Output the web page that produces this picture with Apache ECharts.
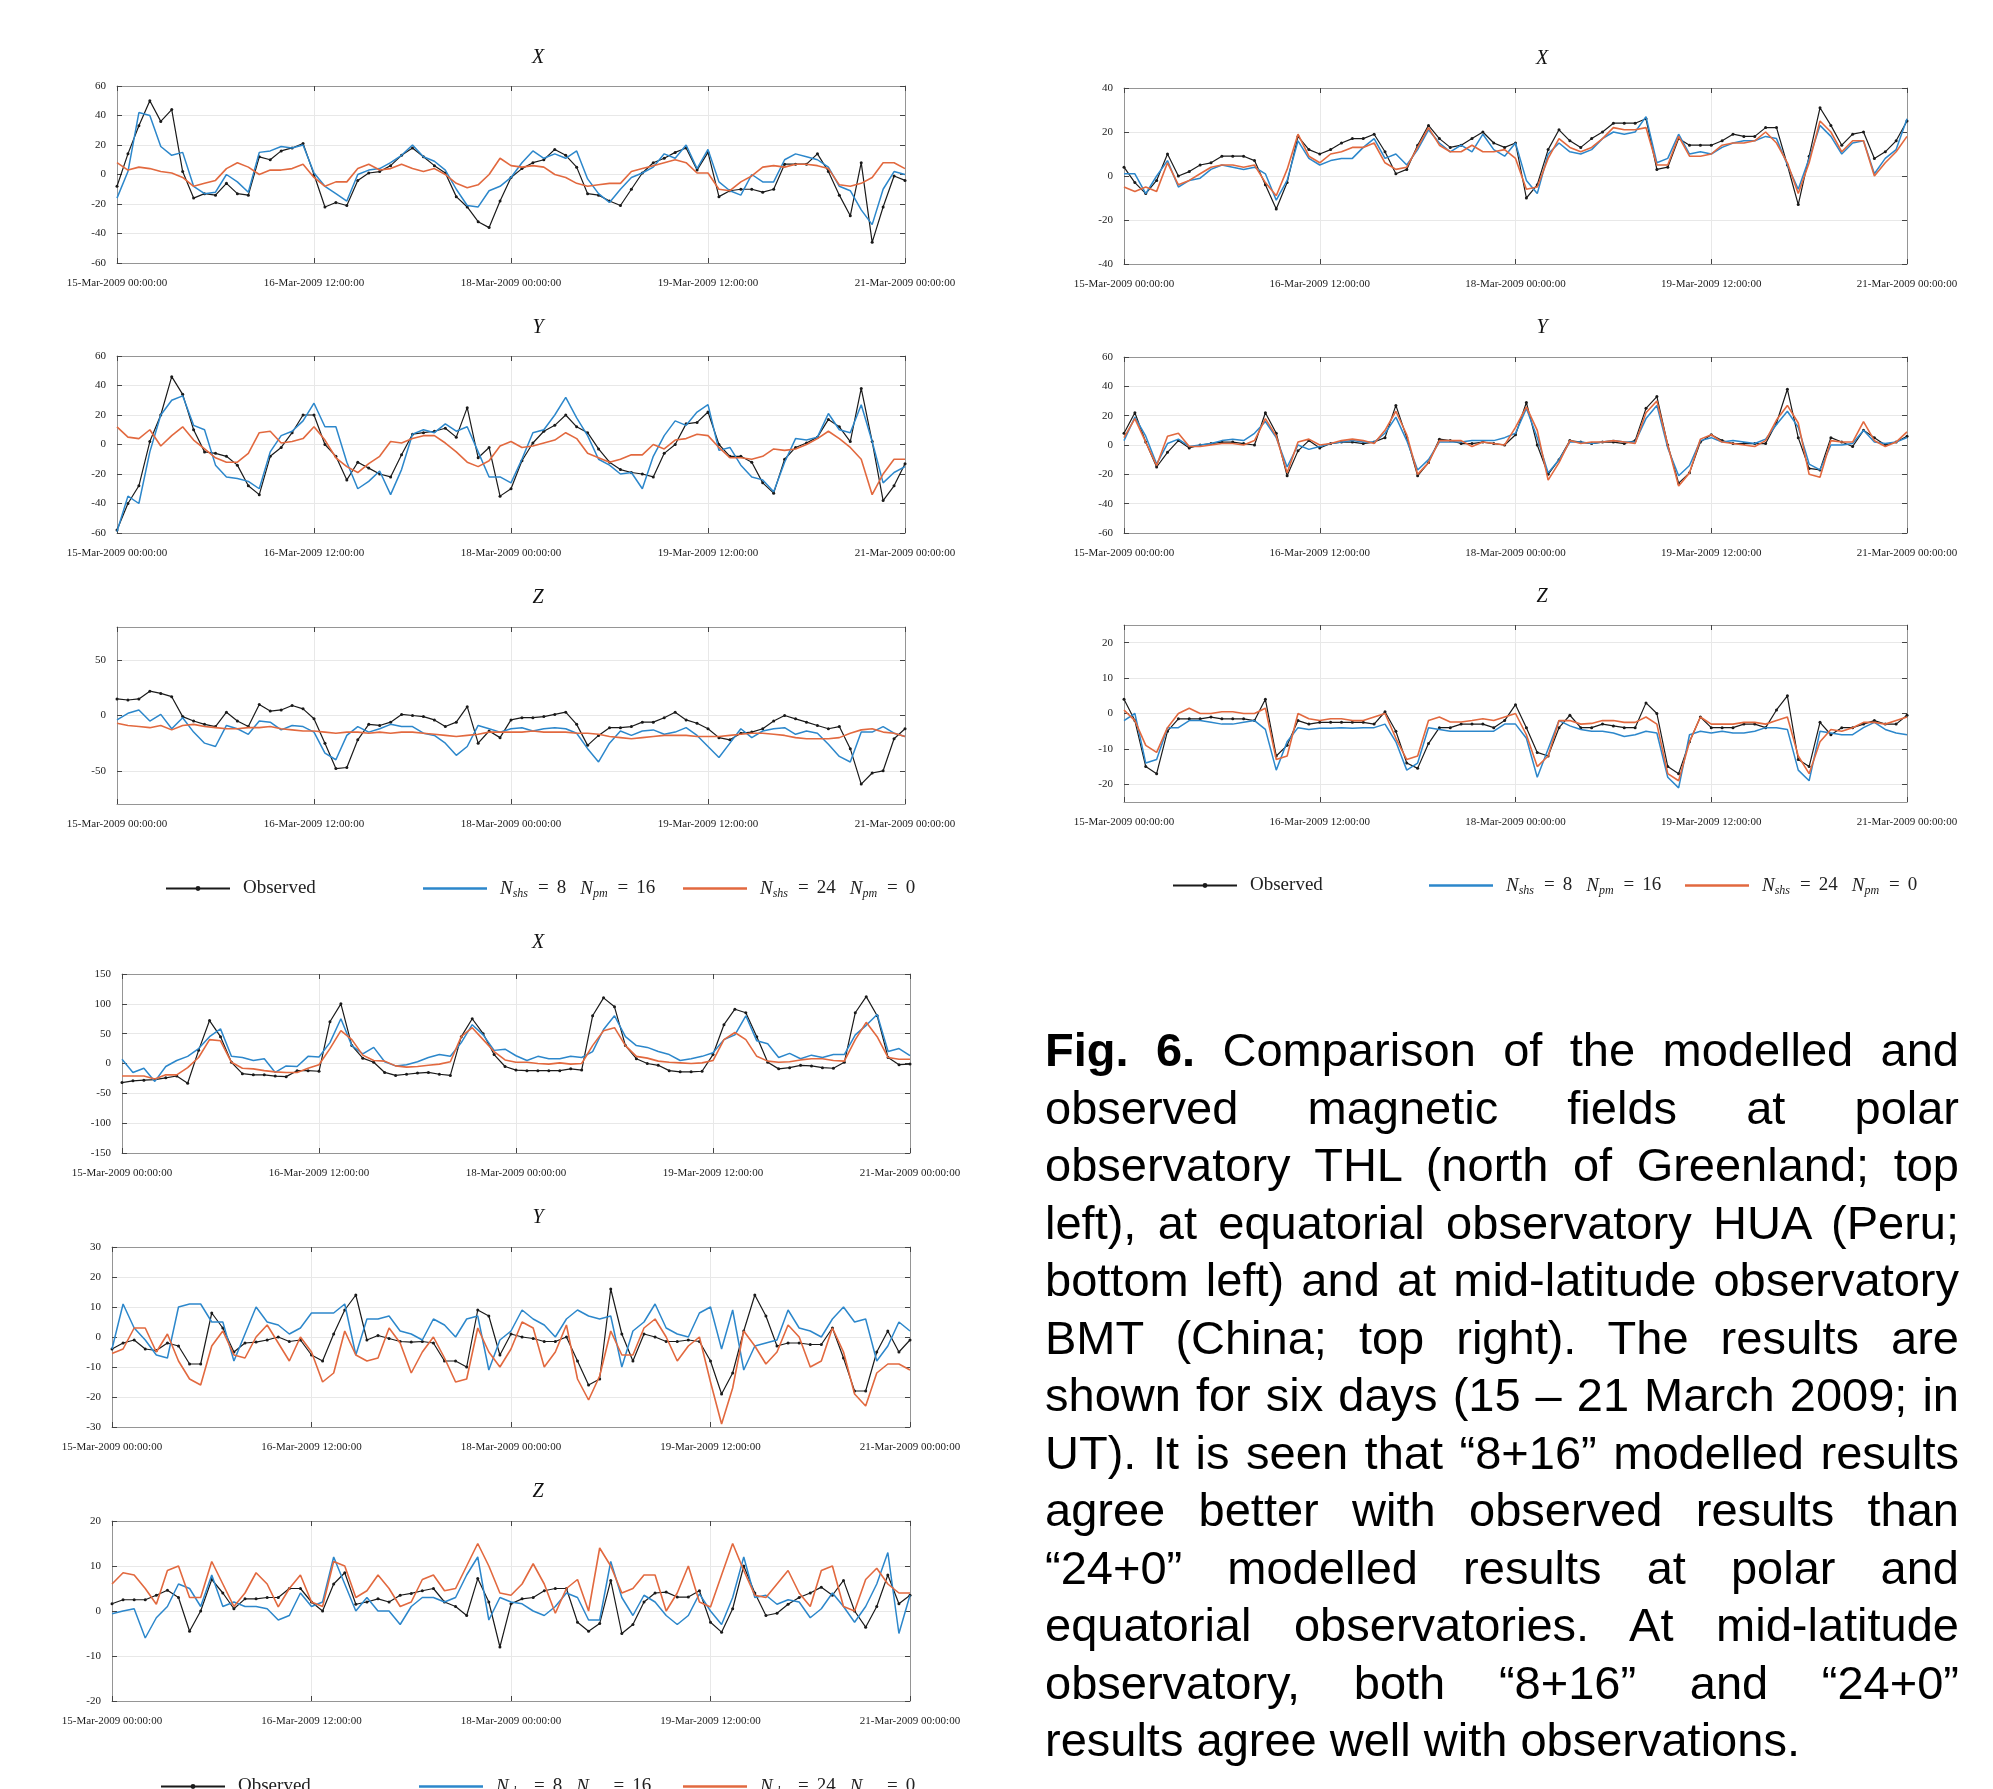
<!DOCTYPE html>
<html>
<head>
<meta charset="utf-8">
<script src="https://cdn.jsdelivr.net/npm/echarts@6/dist/echarts.min.js"></script>
<style>
html, body { margin: 0; padding: 0; background: #fff; }
#chart { position: absolute; left: 0; top: 0; width: 1993px; height: 1789px; }
#caption { position: absolute; left: 1045px; top: 1021px; width: 914px;
  font-family: 'Liberation Sans', Arial, sans-serif; font-size: 47px; line-height: 57.5px; color: #000; }
#caption div { text-align: justify; text-align-last: justify; }
#caption div.last { text-align-last: left; }
</style>
</head>
<body>
<div id="chart"></div>
<div id="caption">
<div><b>Fig. 6.</b> Comparison of the modelled and</div>
<div>observed magnetic fields at polar</div>
<div>observatory THL (north of Greenland; top</div>
<div>left), at equatorial observatory HUA (Peru;</div>
<div>bottom left) and at mid-latitude observatory</div>
<div>BMT (China; top right). The results are</div>
<div>shown for six days (15 – 21 March 2009; in</div>
<div>UT). It is seen that “8+16” modelled results</div>
<div>agree better with observed results than</div>
<div>“24+0” modelled results at polar and</div>
<div>equatorial observatories. At mid-latitude</div>
<div>observatory, both “8+16” and “24+0”</div>
<div class="last">results agree well with observations.</div>
</div>
<script>
// time grid: hours since 15-Mar-2009 00:00, every 2 h
var hours = [];
for (var h = 0; h <= 144; h += 2) hours.push(h);
var tickLabels = ['15-Mar-2009 00:00:00', '16-Mar-2009 12:00:00', '18-Mar-2009 00:00:00', '19-Mar-2009 12:00:00', '21-Mar-2009 00:00:00'];

// THL (polar, top left)
var thlXObs = [-8, 14, 33, 50, 36, 44, 2, -16, -13, -14, -6, -13,
  -14, 12, 10, 16, 18, 21, 0, -22, -19, -21, -4, 1,
  2, 6, 13, 18, 12, 6, 1, -15, -22, -32, -36, -18,
  -2, 4, 8, 10, 17, 13, 5, -13, -14, -18, -21, -10,
  1, 8, 11, 15, 18, 3, 15, -15, -11, -10, -10, -12,
  -10, 7, 7, 7, 14, 2, -14, -28, 8, -46, -22, -1, -4];
var thlXN8 = [-16, 2, 42, 40, 19, 13, 15, -8, -13, -12, 0, -5,
  -12, 15, 16, 19, 18, 20, 1, -8, -13, -18, 0, 3,
  4, 8, 13, 20, 12, 9, 3, -10, -21, -22, -11, -8,
  -2, 8, 16, 11, 14, 11, 16, -3, -13, -19, -10, -2,
  1, 5, 14, 11, 20, 4, 17, -5, -11, -14, 0, -5,
  -5, 10, 14, 12, 10, 5, -8, -11, -24, -34, -10, 2, 0];
var thlXN24 = [8, 3, 5, 4, 2, 1, -2, -8, -6, -4, 4, 8,
  5, 0, 3, 3, 4, 7, -2, -8, -5, -5, 4, 7,
  3, 4, 7, 4, 2, 4, 0, -6, -9, -7, 0, 11,
  6, 5, 6, 5, 0, -2, -6, -8, -7, -6, -6, 2,
  4, 6, 8, 10, 8, 1, 1, -10, -11, -5, -1, 5,
  6, 5, 7, 7, 6, 4, -7, -8, -6, -2, 8, 8, 4];
var thlYObs = [-58, -40, -28, 2, 20, 46, 34, 10, -5, -6, -8, -14,
  -28, -34, -8, -2, 8, 20, 20, 0, -8, -24, -12, -16,
  -20, -22, -7, 7, 8, 9, 11, 5, 25, -9, -2, -35,
  -30, -11, 1, 9, 13, 20, 12, 8, -3, -12, -17, -19,
  -20, -22, -6, 0, 14, 15, 22, 0, -8, -8, -12, -26,
  -33, -10, -2, 1, 5, 17, 12, 2, 38, 2, -38, -28, -13];
var thlYN8 = [-59, -35, -40, -5, 20, 30, 33, 13, 10, -14, -22, -23,
  -25, -30, -5, 6, 9, 16, 28, 12, 12, -12, -30, -25,
  -18, -34, -17, 7, 10, 8, 14, 9, 12, -5, -22, -22,
  -26, -10, 8, 10, 20, 32, 18, 6, -10, -14, -20, -19,
  -30, -8, 6, 16, 13, 22, 27, -4, -2, -14, -22, -24,
  -32, -12, 4, 3, 5, 21, 10, 8, 27, 2, -26, -19, -15];
var thlYN24 = [12, 5, 4, 10, -1, 6, 12, 3, -3, -9, -12, -12,
  -6, 8, 9, 1, 2, 4, 12, 3, -9, -15, -19, -13,
  -8, 2, 1, 4, 6, 6, 1, -5, -12, -15, -11, -1,
  2, -2, -1, 1, 3, 8, 4, -6, -9, -12, -10, -7,
  -7, 0, -3, 3, 4, 7, 6, -2, -9, -9, -10, -8,
  -3, -4, -3, 0, 4, 9, 4, -2, -10, -34, -20, -10, -10];
var thlZObs = [15, 14, 15, 22, 20, 17, -1, -5, -8, -10, 3, -5,
  -10, 10, 4, 5, 9, 6, -3, -25, -48, -47, -22, -8,
  -9, -6, 1, 0, -1, -4, -10, -6, 8, -25, -14, -20,
  -4, -2, -2, -1, 1, 3, -8, -27, -18, -11, -11, -10,
  -6, -6, -2, 3, -4, -7, -12, -20, -22, -16, -15, -12,
  -5, 0, -3, -6, -9, -12, -10, -30, -62, -52, -50, -21, -12];
var thlZN8 = [-4, 2, 5, -5, 1, -12, -2, -15, -25, -28, -9, -12,
  -17, -5, -6, -13, -9, -10, -15, -34, -40, -18, -10, -15,
  -12, -8, -10, -10, -16, -18, -25, -36, -28, -9, -12, -15,
  -12, -11, -14, -12, -11, -12, -16, -30, -42, -25, -14, -18,
  -14, -13, -17, -15, -11, -18, -28, -38, -25, -12, -20, -14,
  -12, -11, -17, -14, -16, -26, -37, -42, -15, -15, -10, -16, -19];
var thlZN24 = [-7, -9, -10, -11, -9, -13, -9, -8, -10, -11, -12, -12,
  -11, -11, -10, -12, -13, -14, -14, -15, -16, -15, -15, -16,
  -15, -16, -15, -15, -16, -17, -18, -19, -18, -17, -15, -15,
  -15, -15, -14, -15, -15, -15, -16, -16, -17, -19, -20, -21,
  -20, -19, -18, -18, -18, -19, -19, -19, -18, -17, -16, -16,
  -17, -18, -20, -21, -21, -21, -20, -16, -13, -12, -15, -16, -19];

// BMT (mid-latitude, top right)
var bmtXObs = [4, -3, -8, -2, 10, 0, 2, 5, 6, 9, 9, 9,
  7, -4, -15, -3, 18, 12, 10, 12, 15, 17, 17, 19,
  11, 1, 3, 14, 23, 17, 13, 14, 17, 20, 15, 13,
  15, -10, -4, 12, 21, 16, 13, 17, 20, 24, 24, 24,
  26, 3, 4, 17, 14, 14, 14, 16, 19, 18, 18, 22,
  22, 5, -13, 9, 31, 23, 14, 19, 20, 8, 11, 16, 25];
var bmtXN8 = [1, 1, -8, 0, 7, -5, -2, -1, 3, 5, 4, 3,
  4, 1, -11, -2, 16, 8, 5, 7, 8, 8, 13, 17,
  8, 10, 5, 12, 21, 15, 11, 14, 11, 19, 12, 9,
  15, -2, -8, 10, 15, 11, 10, 12, 17, 20, 19, 20,
  27, 6, 8, 19, 10, 11, 10, 13, 15, 16, 16, 18,
  17, 5, -6, 8, 23, 18, 10, 15, 16, 1, 8, 12, 26];
var bmtXN24 = [-5, -7, -5, -7, 6, -4, -2, 1, 4, 5, 5, 4,
  5, -3, -9, 3, 19, 9, 6, 10, 11, 13, 13, 15,
  6, 3, 4, 13, 22, 14, 11, 11, 14, 11, 11, 12,
  8, -6, -5, 8, 17, 13, 11, 13, 17, 22, 21, 21,
  22, 5, 5, 18, 9, 9, 10, 14, 15, 15, 16, 20,
  15, 6, -8, 6, 25, 20, 11, 16, 16, 0, 6, 11, 18];
var bmtYObs = [8, 22, 2, -15, -5, 3, -2, 0, 1, 2, 2, 1,
  0, 22, 8, -21, -4, 3, -2, 1, 2, 2, 1, 2,
  5, 27, 5, -21, -12, 4, 3, 1, 1, 2, 1, 0,
  7, 29, 0, -20, -10, 3, 2, 1, 2, 2, 1, 3,
  25, 33, 0, -26, -19, 2, 7, 3, 1, 1, 1, 1,
  15, 38, 5, -16, -17, 5, 2, -1, 10, 5, 0, 2, 6];
var bmtYN8 = [3, 19, 6, -13, 1, 4, -1, 0, 1, 3, 4, 3,
  8, 16, 5, -15, 0, -3, -1, 1, 2, 3, 2, 2,
  8, 19, 3, -17, -10, 2, 2, 2, 3, 3, 3, 5,
  8, 25, 5, -19, -10, 2, 2, 1, 2, 3, 2, 2,
  18, 27, -2, -21, -14, 3, 5, 2, 3, 2, 1, 4,
  14, 23, 12, -13, -17, 0, 0, 1, 10, 2, 1, 2, 5];
var bmtYN24 = [5, 18, 2, -14, 6, 8, -1, -1, 0, 1, 1, 0,
  3, 18, 6, -19, 2, 4, 0, 1, 3, 4, 3, 1,
  10, 23, 7, -20, -12, 3, 3, 3, -1, 2, 1, 0,
  12, 26, 10, -24, -12, 3, 1, 2, 2, 3, 2, 1,
  22, 30, 0, -28, -19, 4, 7, 2, 1, 0, -1, 3,
  17, 27, 15, -20, -22, 3, 2, 2, 16, 3, -1, 2, 9];
var bmtZObs = [4, -2, -15, -17, -5, -1.5, -1.5, -1.5, -1, -1.5, -1.5, -1.5,
  -2, 4, -12, -9, -2, -3, -2.5, -2.5, -2.5, -2.5, -2.5, -3,
  0.5, -5, -14, -15.5, -8.5, -4, -4, -3, -3, -3, -4, -2,
  2.5, -4, -11, -12, -4, -0.5, -4, -4, -3, -3.5, -4, -4,
  3, 0, -15, -17, -8, -1, -4, -4, -4, -3, -3, -4,
  1, 5, -13, -15, -2.5, -6, -4, -4, -3, -2, -3, -3, -0.5];
var bmtZN8 = [-2, 0, -14, -13, -4, -4, -2, -2, -2.5, -3, -3, -2.5,
  -2, -4.5, -16, -8, -4, -4.5, -4.2, -4.2, -4, -4.2, -4, -4,
  -3, -8, -16, -14, -4, -4.5, -5, -5, -5, -5, -5, -3,
  -3, -7, -18, -10, -2, -3.5, -4.5, -5, -5, -5.5, -6.5, -6,
  -5, -5.5, -18, -21, -6, -5, -5.5, -5, -5.5, -5.5, -5, -4,
  -4, -4.5, -16, -19, -5, -5.5, -6, -6, -4, -2.5, -4.5, -5.5, -6];
var bmtZN24 = [1, -2, -9, -11, -4, 0, 1.5, 0, 0, 0.5, 0.5, 0,
  0, 1.5, -13, -12, 0, -1.5, -2, -1.5, -1.5, -2, -2, -1,
  0, -7, -13, -12, -2, -1, -2.4, -2.4, -2, -1.5, -2, -1,
  0, -6, -15, -12, -2, -2, -3, -2.8, -2, -2, -2.5, -2.5,
  -1, -3, -17, -19, -8, -1, -3, -3, -3, -2.5, -2.5, -3,
  -2, -1, -12, -17, -8, -4.5, -5, -4, -2.5, -2.5, -3, -2, -1];

// HUA (equatorial, bottom left)
var huaXObs = [-32, -29, -28, -27, -24, -21, -33, 22, 72, 45, 2, -17,
  -19, -19, -21, -22, -12, -12, -13, 70, 100, 30, 9, 2,
  -15, -20, -18, -16, -15, -18, -20, 45, 75, 50, 15, -5,
  -11, -12, -12, -12, -12, -9, -11, 80, 110, 95, 30, 8,
  0, -3, -12, -14, -14, -13, 15, 65, 91, 85, 45, 2,
  -9, -7, -3, -4, -7, -8, 2, 85, 112, 80, 10, -2, -1];
var huaXN8 = [7, -15, -8, -30, -5, 5, 12, 25, 45, 58, 12, 10,
  5, 8, -15, -4, -5, 12, 11, 35, 75, 30, 16, 27,
  3, -4, -2, 3, 10, 15, 12, 35, 65, 48, 22, 24,
  13, 5, 12, 8, 8, 12, 10, 20, 57, 80, 45, 30,
  27, 20, 15, 5, 8, 12, 18, 40, 48, 80, 38, 33,
  10, 17, 8, 14, 10, 15, 15, 48, 64, 82, 20, 25, 13];
var huaXN24 = [-21, -21, -21, -26, -19, -19, -7, 10, 40, 38, 2, -8,
  -9, -12, -14, -15, -15, -8, -2, 25, 55, 40, 14, 5,
  4, -4, -6, -5, -3, -1, 3, 45, 60, 40, 20, 6,
  2, 2, 0, -1, 1, -1, 0, 30, 55, 60, 30, 12,
  9, 4, 2, 1, 0, 1, 5, 40, 52, 40, 12, 4,
  2, 3, 6, 8, 8, 5, 4, 40, 69, 45, 10, 7, 7];
var huaYObs = [-4, -2, -1, -4, -4.5, -2, -3, -9, -9, 8, 3, -5,
  -2, -1.7, -1, 0, -1.5, -1, -6, -8, 1, 9, 14, -1,
  0.5, -0.5, -1.5, -1.7, -1.5, -2, -8, -8, -10, 9, 7, -6,
  1, 0, -0.5, -1.5, -1.5, 0, -8, -16, -14, 16, 1, -8,
  1, 0, -1.5, -1.5, -1, -1.5, -8, -19, -12, 2, 14, 7,
  -3, -2, -2, -2.5, -2.5, 3, -7, -18, -18, -5, 2, -5, -1];
var huaYN8 = [-4, 11, 3, -1, -6, -7, 10, 11, 11, 5, 5, -8,
  1, 10, 5, 4, 1, 3, 8, 8, 8, 11, -6, 6,
  6, 7, 2, 1, -1, 6, 4, 0, 6, 7, -11, -1,
  2, 9, 6, 4, 0, 6, 9, 7, 6, 7, -10, 2,
  5, 11, 3, 1, 0, 8, 10, -4, 9, -11, -3, -2,
  -1, 9, 3, 2, 0, 6, 10, 5, 6, -8, -3, 5, 2];
var huaYN24 = [-5.5, -4, 3, 3, -5, 1, -8, -14, -16, -3, 2, -6,
  -7, 0, 4, -2, -8, 0, -5, -15, -12, 2, -6, -8,
  -7, 3, -2, -12, -5, 0, -7, -15, -14, 3, -5, -10,
  -4, 5, 3, -10, -5, 4, -14, -21, -13, 2, -6, -6,
  3, 6, 0, -8, -3, 0, -15, -29, -17, 2, -3, -9,
  -5, 4, 0, -10, -8, 3, -5, -19, -23, -12, -9, -9, -11];
var huaZObs = [1.6, 2.5, 2.5, 2.5, 3.5, 4.6, 3, -4.5, 0, 7, 4, 0.5,
  2.7, 2.7, 3, 3, 5, 5, 2, 0, 6, 8.5, 1.5, 2,
  2.7, 2, 3.5, 3.9, 4.5, 5, 2, 1, -1, 7.2, 2, -8,
  1.6, 2.7, 3, 4.5, 5, 5, -2.5, -4.5, -2.8, 6.8, -5, -3,
  2, 4, 4.2, 3.1, 3.1, 4.5, -2.5, -4.7, 0.5, 10, 4, -1,
  -0.5, 1.5, 3, 4, 5.3, 3.5, 6.8, 0, -3.6, 1, 8, 1.6, 3.5];
var huaZN8 = [-0.6, 0, 0.5, -6, -1.5, 1, 6, 5, 1, 8, 1, 2,
  1, 1, 0.5, -2, -1, 4, 1, 2, 12, 6, 0, 3,
  0, 0, -3, 1, 3, 3, 2, 3, 8, 12, -2, 3,
  2, 1.6, 0, -1, 1, 4, 3, -2, -2, 11, 3, -1,
  3.5, 2, -1, -3, -1, 3.8, 0, -3, 3, 12, 3, 3.5,
  1.5, 2.5, 2, -1.5, 0.5, 4, 1, -2.5, 1, 6, 13, -5, 3.5];
var huaZN24 = [6, 8.5, 8, 5, 1.5, 9, 10, 3, 3, 11, 6, 1,
  4, 8.5, 6, 0.9, 5, 8, 2, 1, 11, 10, 3, 4.5,
  8, 5, 1, 2, 7, 8, 4.5, 5, 10, 15, 10, 4,
  3.5, 6, 10.5, 6, -0.5, 5, 7, 0, 14, 10, 4, 5,
  8, 8, 0, 4, 10, 2, 0.9, 8, 15, 9, 3.5, 3,
  6, 9, 4, 1, 9, 10, 1, 0, 7, 9.5, 6, 4, 4];

var serif = "'Liberation Serif', 'DejaVu Serif', serif";
var frameColor = '#959595', tickColor = '#444', gridColor = '#e8e8e8';
var colBlack = '#1a1a1a', colBlue = '#2c87cb', colOrange = '#e2693f';

// panel layout: grid [left, top, width, height], title position, y range
var panels = [
  {g: [117, 86, 788, 177], tx: 538, ty: 48, t: 'X', min: -60, max: 60, step: 20, d: [thlXObs, thlXN8, thlXN24]},
  {g: [117, 356, 788, 177], tx: 538, ty: 318, t: 'Y', min: -60, max: 60, step: 20, d: [thlYObs, thlYN8, thlYN24]},
  {g: [117, 627, 788, 177], tx: 538, ty: 588, t: 'Z', min: -80, max: 80, ticks: [-50, 0, 50], d: [thlZObs, thlZN8, thlZN24]},
  {g: [1124, 88, 783, 176], tx: 1542, ty: 49, t: 'X', min: -40, max: 40, step: 20, d: [bmtXObs, bmtXN8, bmtXN24]},
  {g: [1124, 357, 783, 176], tx: 1542, ty: 318, t: 'Y', min: -60, max: 60, step: 20, d: [bmtYObs, bmtYN8, bmtYN24]},
  {g: [1124, 625, 783, 177], tx: 1542, ty: 587, t: 'Z', min: -25, max: 25, ticks: [-20, -10, 0, 10, 20], d: [bmtZObs, bmtZN8, bmtZN24]},
  {g: [122, 974, 788, 179], tx: 538, ty: 933, t: 'X', min: -150, max: 150, step: 50, d: [huaXObs, huaXN8, huaXN24]},
  {g: [112, 1247, 798, 180], tx: 538, ty: 1208, t: 'Y', min: -30, max: 30, step: 10, d: [huaYObs, huaYN8, huaYN24]},
  {g: [112, 1521, 798, 180], tx: 538, ty: 1482, t: 'Z', min: -20, max: 20, step: 10, d: [huaZObs, huaZN8, huaZN24]}
];
var legendRows = [
  {top: 879, xs: [165, 423, 683]},
  {top: 876, xs: [1172, 1429, 1685]},
  {top: 1777, xs: [160, 419, 683]}
];
var legendText = {
  'Observed': 'Observed',
  'N8': '{i|N}{s|shs}{e|=}{n|8}{g|}{i|N}{s|pm}{e|=}{n|16}',
  'N24': '{i|N}{s|shs}{e|=}{n|24}{g|}{i|N}{s|pm}{e|=}{n|0}'
};

function pairs(arr) {
  return hours.map(function (h, i) { return [h, arr[i]]; });
}

function xAxisFor(k, pos, labels) {
  return {
    gridIndex: k, type: 'value', position: pos, min: 0, max: 144, interval: 36,
    axisLine: {show: true, onZero: false, lineStyle: {color: frameColor, width: 1}},
    axisTick: {show: true, inside: true, length: 5, lineStyle: {color: tickColor}},
    axisLabel: {show: labels, margin: 15, fontFamily: serif, fontSize: 11, color: '#222',
      formatter: function (v) { return tickLabels[Math.round(v / 36)] || ''; }},
    splitLine: {show: labels, lineStyle: {color: gridColor}}
  };
}

function yAxisFor(p, k, pos, labels) {
  var ax = {
    gridIndex: k, type: 'value', position: pos, min: p.min, max: p.max,
    axisLine: {show: true, onZero: false, lineStyle: {color: frameColor, width: 1}},
    axisTick: {show: true, inside: true, length: 5, lineStyle: {color: tickColor}},
    axisLabel: {show: labels, margin: 11, fontFamily: serif, fontSize: 11, color: '#222'},
    splitLine: {show: labels, lineStyle: {color: gridColor}}
  };
  if (p.step) ax.interval = p.step;
  if (p.ticks) {
    ax.axisLabel.customValues = p.ticks;
    ax.axisTick.customValues = p.ticks;
  }
  return ax;
}

var grids = [], xAxes = [], yAxes = [], titles = [], series = [], legends = [];
panels.forEach(function (p, k) {
  grids.push({left: p.g[0], top: p.g[1], width: p.g[2], height: p.g[3]});
  titles.push({text: p.t, left: p.tx, top: p.ty, textAlign: 'center', padding: 0,
    textStyle: {fontFamily: serif, fontStyle: 'italic', fontWeight: 'normal', fontSize: 20, color: '#111'}});
  xAxes.push(xAxisFor(k, 'bottom', true));
  xAxes.push(xAxisFor(k, 'top', false));
  yAxes.push(yAxisFor(p, k, 'left', true));
  yAxes.push(yAxisFor(p, k, 'right', false));
  series.push({name: 'Observed', type: 'line', xAxisIndex: 2 * k, yAxisIndex: 2 * k, data: pairs(p.d[0]),
    symbol: 'circle', symbolSize: 3, itemStyle: {color: colBlack},
    lineStyle: {color: colBlack, width: 1.2}, z: 3});
  series.push({name: 'N8', type: 'line', xAxisIndex: 2 * k, yAxisIndex: 2 * k, data: pairs(p.d[1]),
    symbol: 'none', itemStyle: {color: colBlue}, lineStyle: {color: colBlue, width: 1.5}, z: 4});
  series.push({name: 'N24', type: 'line', xAxisIndex: 2 * k, yAxisIndex: 2 * k, data: pairs(p.d[2]),
    symbol: 'none', itemStyle: {color: colOrange}, lineStyle: {color: colOrange, width: 1.6}, z: 5});
});

var legendRich = {
  i: {fontFamily: serif, fontStyle: 'italic', fontSize: 19, color: '#222'},
  s: {fontFamily: serif, fontStyle: 'italic', fontSize: 12, color: '#222', padding: [10, 2, 0, 0]},
  e: {fontFamily: serif, fontSize: 19, color: '#222', padding: [0, 8, 0, 8]},
  n: {fontFamily: serif, fontSize: 19, color: '#222'},
  g: {width: 14}
};
legendRows.forEach(function (row) {
  ['Observed', 'N8', 'N24'].forEach(function (name, j) {
    var item = j === 0 ? {name: name} : {name: name, icon: 'rect'};
    legends.push({
      data: [item], left: row.xs[j], top: row.top, padding: 0,
      itemWidth: 64, itemHeight: j === 0 ? 6 : 2.5, selectedMode: false,
      formatter: function (n) { return legendText[n]; },
      textStyle: {fontFamily: serif, fontSize: 19, color: '#222', padding: [0, 0, 0, 8], rich: legendRich}
    });
  });
});

var chart = echarts.init(document.getElementById('chart'));
chart.setOption({
  animation: false,
  backgroundColor: '#fff',
  title: titles,
  legend: legends,
  grid: grids,
  xAxis: xAxes,
  yAxis: yAxes,
  series: series
});
</script>
</body>
</html>
